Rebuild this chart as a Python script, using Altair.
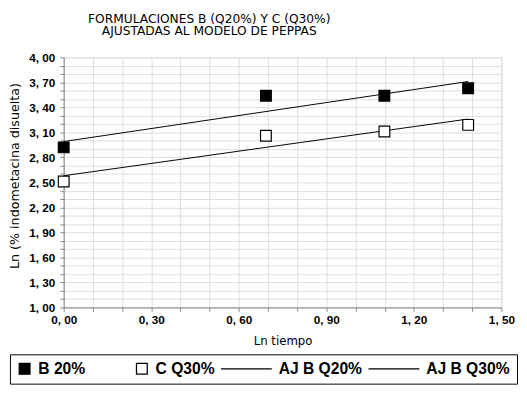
import altair as alt
import pandas as pd

# ---- data ----
ln_tiempo = [0.0, 0.693, 1.099, 1.386]
b_q20 = [2.92, 3.54, 3.54, 3.63]
c_q30 = [2.51, 3.06, 3.11, 3.19]

fit_t = [0.0, 1.386]
aj_b_q20 = [2.99, 3.71]
aj_c_q30 = [2.58, 3.26]

series = ["B 20%", "C Q30%", "AJ B Q20%", "AJ B Q30%"]
x_ticks = [round(i * 0.1, 1) for i in range(0, 16)]
y_ticks = [round(1 + i * 0.1, 1) for i in range(0, 31)]

pts = pd.DataFrame({
    "t": ln_tiempo + ln_tiempo,
    "v": b_q20 + c_q30,
    "serie": [series[0]] * 4 + [series[1]] * 4,
})
fits = pd.DataFrame({
    "t": fit_t + fit_t,
    "v": aj_b_q20 + aj_c_q30,
    "serie": [series[2]] * 2 + [series[3]] * 2,
})

lab_font = "Liberation Sans"

xenc = alt.X(
    "t:Q",
    title="Ln tiempo",
    scale=alt.Scale(domain=[0, 1.5], nice=False, zero=False),
    axis=alt.Axis(
        values=x_ticks,
        labelExpr="round(datum.value*10) % 3 == 0 ? replace(format(datum.value, '.2f'), '.', ', ') : ''",
        labelOverlap=False, labelFlush=False, labelBound=False,
        tickSize=4, labelPadding=3,
        labelFont=lab_font, labelFontSize=12, labelFontWeight="bold",
        titleFont="DejaVu Sans", titleFontSize=12, titleFontWeight="normal",
        titlePadding=11,
    ),
)
yenc = alt.Y(
    "v:Q",
    title="Ln (% indometacina disuelta)",
    scale=alt.Scale(domain=[1, 4], nice=False, zero=False),
    axis=alt.Axis(
        values=y_ticks,
        labelExpr="abs(round((datum.value-1)*10)) % 3 == 0 ? replace(format(datum.value, '.2f'), '.', ', ') : ''",
        labelOverlap=False, labelBound=False, labelFlush=False,
        tickSize=4, labelPadding=5,
        labelFont=lab_font, labelFontSize=12, labelFontWeight="bold",
        titleFont="DejaVu Sans", titleFontSize=13, titleFontWeight="normal",
        titleX=-50, titleY=121, titleAngle=270, titleAlign="center", titleBaseline="middle",
    ),
)

pad_b = "\u00a0" * 10 + "\u200b"
leg = alt.Legend(
    title=None,
    orient="none",
    legendX=-55,
    legendY=304,
    direction="horizontal",
    strokeColor="black",
    fillColor="white",
    padding=7,
    columnPadding=5,
    clipHeight=15,
    labelOffset=6,
    labelFont=lab_font,
    labelFontSize=16,
    labelFontWeight="bold",
    labelColor="black",
    labelLimit=0,
    labelExpr=f"datum.label == 'B 20%' ? 'B 20%{pad_b}' : datum.label",
    symbolStrokeColor="black",
    symbolStrokeWidth=1.3,
)

points = alt.Chart(pts).mark_point(
    stroke="black", strokeWidth=1.2, opacity=1, fillOpacity=1
).encode(
    x=xenc,
    y=yenc,
    shape=alt.Shape("serie:N", scale=alt.Scale(domain=series, range=["square", "square", "stroke", "stroke"]), legend=leg),
    fill=alt.Fill("serie:N", scale=alt.Scale(domain=series, range=["black", "white", "white", "white"]), legend=leg),
    stroke=alt.Stroke("serie:N", scale=alt.Scale(domain=series, range=["black", "black", "black", "black"]), legend=leg),
    size=alt.Size("serie:N", scale=alt.Scale(type="ordinal", domain=series, range=[121, 121, 2704, 2704]), legend=leg),
)

lines = alt.Chart(fits).mark_line(color="black", strokeWidth=1).encode(
    x=xenc,
    y=yenc,
    detail="serie:N",
)

chart = alt.layer(lines, points).properties(
    width=448,
    height=256,
    autosize=alt.AutoSizeParams(type="none"),
    padding={"left": 57, "top": 46, "right": 18, "bottom": 80},
    title=alt.TitleParams(
        ["FORMULACIONES B (Q20%) Y C (Q30%)", "AJUSTADAS AL MODELO DE PEPPAS"],
        font="DejaVu Sans", fontSize=12.5, fontWeight="normal", color="black",
        anchor="middle", dx=-75, offset=14, lineHeight=13,
    ),
).configure_view(
    stroke="black", strokeWidth=1
).configure_axis(
    grid=False, domainColor="black", tickColor="black", labelColor="black", titleColor="black",
    domainWidth=1, tickWidth=1,
).configure(background="white")

chart.save("out.html", embed_options={"renderer": "svg", "actions": False})
